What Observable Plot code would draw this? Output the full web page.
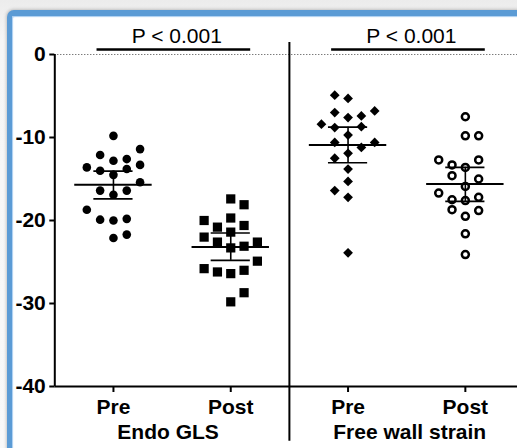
<!DOCTYPE html>
<html>
<head>
<meta charset="utf-8">
<script src="https://cdn.jsdelivr.net/npm/d3@7"></script>
<script src="https://cdn.jsdelivr.net/npm/@observablehq/plot@0.6"></script>
<style>
  body { margin: 0; background: #fff; }
  #wrap { position: relative; width: 517px; height: 448px; overflow: hidden; background: linear-gradient(#ececec, #f6f6f6 40px, #f9f9f9); }
  #frame { position: absolute; left: 7px; top: 10px; width: 620px; height: 560px;
    border-left: 5px solid #5b9bd5; border-top: 6px solid #5b9bd5; border-top-left-radius: 7px;
    background: #fff; box-shadow: 0 0 3px 1px rgba(110,110,110,0.35), inset 1px 1px 1px rgba(160,200,240,0.9); }
  #chart { position: absolute; left: 0; top: 0; }
</style>
</head>
<body>
<div id="wrap"><div id="frame"></div><div id="chart"></div></div>
<script>
// ---- data ----
const tickLabels = ["Pre", "Post", "Pre", "Post"];
const panelLabels = ["Endo GLS", "Free wall strain"];
const pLabels = ["P < 0.001", "P < 0.001"];
const yTicks = [0, -10, -20, -30, -40];

const endoPre  = [-9.8,-11.4,-12.1,-12.8,-12.6,-13.6,-14.0,-13.8,-13.3,-14.5,-15.4,-16.4,-16.9,-16.4,-18.7,-19.9,-20.0,-19.8,-22.1,-21.7];
const endoPreSlot = [0,2,-1,0,1,-2,-1,1,2,0,2,-1,0,1,-2,-1,0,1,0,1];
const endoPost = [-17.4,-18.1,-20.0,-19.7,-20.8,-20.6,-21.4,-22.0,-22.6,-23.3,-23.1,-22.6,-24.9,-25.8,-26.2,-26.4,-26.0,-28.7,-29.8];
const endoPostSlot = [0,1,-2,0,-1,1,0,-2,-1,0,1,2,2,-2,-1,0,1,1,0];
const fwPre    = [-4.9,-5.3,-6.8,-7.0,-7.6,-7.4,-8.4,-8.8,-8.7,-9.7,-10.6,-11.2,-10.6,-11.9,-12.5,-13.8,-15.3,-16.4,-17.2,-23.9];
const fwPreSlot = [-1,0,2,-1,0,1,-2,-1,1,0,-1,1,2,0,-1,0,0,-1,0,0];
const fwPost   = [-7.5,-9.8,-9.8,-12.7,-13.3,-13.6,-12.7,-14.6,-15.0,-15.9,-16.7,-17.5,-17.6,-17.2,-18.7,-18.8,-19.5,-21.6,-24.1];
const fwPostSlot = [0,0,1,-2,-1,0,1,-1,1,0,-2,-1,0,1,-1,1,0,0,0];

const means  = [-15.7, -23.2, -10.9, -15.6];
const ciHigh = [-14.05, -21.5, -8.75, -13.6];
const ciLow  = [-17.4, -24.8, -13.05, -17.7];

// ---- layout ----
const slotStep = 0.1135;
const pts = (vals, slots, g) => vals.map((v, i) => ({g, v, x: g + slots[i] * slotStep}));
const stats = means.map((m, i) => ({g: i + 1, m, hi: ciHigh[i], lo: ciLow[i]}));
const brackets = [{from: 1, to: 2, label: pLabels[0]}, {from: 3, to: 4, label: pLabels[1]}];
const font = "'Liberation Sans', Arial, Helvetica, sans-serif";
const panelMark = (i, dx) => Plot.text([panelLabels[i]], {x: 1.5 + 2 * i, y: -40, text: d => d, dy: 38, dx, lineAnchor: "top", fontSize: 21, fontWeight: "bold"});

const chart = Plot.plot({
  width: 517,
  height: 448,
  marginLeft: 54.3,
  marginRight: 0,
  marginTop: 54,
  marginBottom: 62,
  x: {domain: [0.5, 4.5], range: [54.3, 523.5]},
  y: {domain: [-40, 0], range: [386, 54]},
  style: {fontFamily: font, fontSize: "21px", fontWeight: "bold", background: "transparent", color: "#000", overflow: "visible"},
  marks: [
    Plot.ruleY([0], {x1: 0.5, x2: 4.5, stroke: "#444", strokeWidth: 1, strokeDasharray: "1,2"}),
    Plot.ruleX([0.5], {y1: -40, y2: 0, stroke: "#000", strokeWidth: 2}),
    Plot.ruleY([-40], {x1: 0.5, x2: 4.5, stroke: "#000", strokeWidth: 2}),
    Plot.ruleX([2.5], {y1: 1.45, y2: -46.6, stroke: "#000", strokeWidth: 2}),
    Plot.axisY({ticks: yTicks, tickFormat: d => String(d), tickSize: 5, tickPadding: 4, strokeWidth: 2, label: null, fontSize: 21, fontWeight: "bold"}),
    Plot.axisX({ticks: [1, 2, 3, 4], tickFormat: d => tickLabels[d - 1], tickSize: 6, tickPadding: 7, strokeWidth: 2, label: null, fontSize: 21, fontWeight: "bold"}),
    panelMark(0, -4),
    panelMark(1, 3),
    Plot.ruleY(brackets, {x1: d => d.from - 0.14, x2: d => d.to + 0.17, y: 0, dy: -5, stroke: "#000", strokeWidth: 2.5}),
    Plot.text(brackets, {x: d => (d.from + d.to) / 2 + 0.04, y: 0, dy: -12, text: "label", lineAnchor: "bottom", fontSize: 21, fontWeight: "normal"}),
    Plot.dot(pts(endoPre, endoPreSlot, 1), {x: "x", y: "v", r: 4.3, fill: "#000", stroke: "none"}),
    Plot.dot(pts(endoPost, endoPostSlot, 2), {x: "x", y: "v", r: 5.2, symbol: "square", fill: "#000", stroke: "none"}),
    Plot.dot(pts(fwPre, fwPreSlot, 3), {x: "x", y: "v", r: 4.4, symbol: "diamond2", fill: "#000", stroke: "none"}),
    Plot.dot(pts(fwPost, fwPostSlot, 4), {x: "x", y: "v", r: 3.5, fill: "#fff", stroke: "#000", strokeWidth: 2.5}),
    Plot.ruleY(stats, {y: "m", x1: d => d.g - 0.33, x2: d => d.g + 0.33, stroke: "#000", strokeWidth: 2}),
    Plot.ruleX(stats, {x: "g", y1: "lo", y2: "hi", stroke: "#000", strokeWidth: 1.6}),
    Plot.ruleY(stats, {y: "hi", x1: d => d.g - 0.167, x2: d => d.g + 0.167, stroke: "#000", strokeWidth: 1.6}),
    Plot.ruleY(stats, {y: "lo", x1: d => d.g - 0.167, x2: d => d.g + 0.167, stroke: "#000", strokeWidth: 1.6})
  ]
});
document.getElementById("chart").appendChild(chart);
</script>
</body>
</html>
